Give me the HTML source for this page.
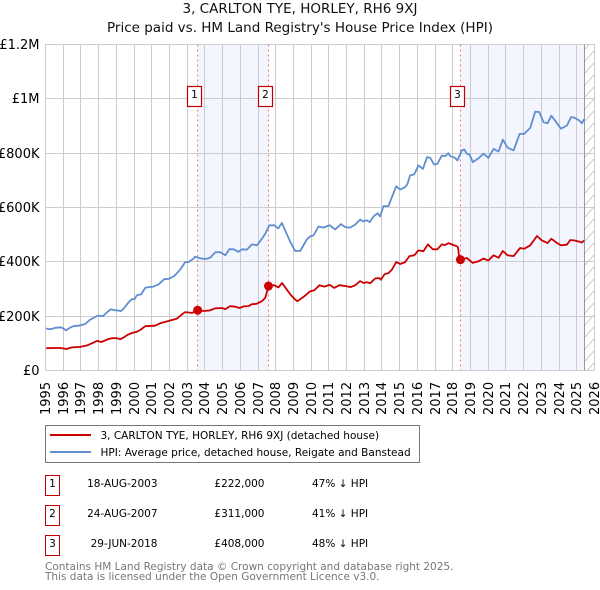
<!DOCTYPE html>
<html>
<head>
<meta charset="utf-8">
<title>3, CARLTON TYE, HORLEY, RH6 9XJ</title>
<style>
html,body{margin:0;padding:0;background:#fff;}
svg{display:block;font-family:"DejaVu Sans",sans-serif;}
text{fill:#000;font-size:13px;}
.ttl{font-size:13.5px;fill:#111;}
.leg{font-size:10.5px;}
.tbl{font-size:10.5px;}
.foot{font-size:10.5px;fill:#777;}
</style>
</head>
<body>
<svg id="chart" width="600" height="590" viewBox="0 0 600 590" xmlns="http://www.w3.org/2000/svg">
<defs>
<pattern id="hatch" patternUnits="userSpaceOnUse" x="584.5" y="2" width="10" height="12">
<path d="M0 11.5L10 0.5" stroke="#ccc" stroke-width="1" fill="none"/>
</pattern>
</defs>
<text class="ttl" x="300" y="13" text-anchor="middle">3, CARLTON TYE, HORLEY, RH6 9XJ</text>
<text class="ttl" x="300" y="32" text-anchor="middle">Price paid vs. HM Land Registry's House Price Index (HPI)</text>
<g id="shades"></g>
<g id="grid"></g>
<rect x="584.5" y="44.5" width="10" height="326" fill="url(#hatch)"/>
<line x1="584.5" x2="584.5" y1="44.5" y2="370.5" stroke="#999" stroke-width="1"/>
<g id="yticks"></g>
<g id="xticks"></g>
<g id="salelines"></g>
<g id="series"></g>
<g id="salemarks"></g>
<g id="saleboxes"></g>

<g>
<rect x="45.5" y="425.5" width="374" height="37" fill="#fff" stroke="#777" stroke-width="1"/>
<line x1="50" x2="91" y1="435" y2="435" stroke="#cc0000" stroke-width="2"/>
<text class="leg" x="100.5" y="439">3, CARLTON TYE, HORLEY, RH6 9XJ (detached house)</text>
<line x1="50" x2="91" y1="452" y2="452" stroke="#6090cf" stroke-width="2"/>
<text class="leg" x="100.5" y="456">HPI: Average price, detached house, Reigate and Banstead</text>
</g>

<g>
<rect x="45.5" y="475.5" width="14" height="20" fill="#fff" stroke="#c00000" stroke-width="1"/>
<text class="tbl" x="52.5" y="487" text-anchor="middle">1</text>
<text class="tbl" x="157.5" y="487" text-anchor="end">18-AUG-2003</text>
<text class="tbl" x="264.5" y="487" text-anchor="end">£222,000</text>
<text class="tbl" x="312" y="487">47% ↓ HPI</text>
<rect x="45.5" y="505.5" width="14" height="20" fill="#fff" stroke="#c00000" stroke-width="1"/>
<text class="tbl" x="52.5" y="517" text-anchor="middle">2</text>
<text class="tbl" x="157.5" y="517" text-anchor="end">24-AUG-2007</text>
<text class="tbl" x="264.5" y="517" text-anchor="end">£311,000</text>
<text class="tbl" x="312" y="517">41% ↓ HPI</text>
<rect x="45.5" y="535.5" width="14" height="20" fill="#fff" stroke="#c00000" stroke-width="1"/>
<text class="tbl" x="52.5" y="547" text-anchor="middle">3</text>
<text class="tbl" x="157.5" y="547" text-anchor="end">29-JUN-2018</text>
<text class="tbl" x="264.5" y="547" text-anchor="end">£408,000</text>
<text class="tbl" x="312" y="547">48% ↓ HPI</text>
</g>

<text class="foot" x="45" y="570">Contains HM Land Registry data © Crown copyright and database right 2025.</text>
<text class="foot" x="45" y="580">This data is licensed under the Open Government Licence v3.0.</text>
</svg>

<script>
var yearTicks = [1995,1996,1997,1998,1999,2000,2001,2002,2003,2004,2005,2006,2007,2008,2009,2010,2011,2012,2013,2014,2015,2016,2017,2018,2019,2020,2021,2022,2023,2024,2025,2026];
var priceTicks = [0,200,400,600,800,1000,1200];
var priceTickLabels = ['£0','£200K','£400K','£600K','£800K','£1M','£1.2M'];

var hpiYears = [1995.04,1995.17,1995.36,1995.55,1995.87,1996.02,1996.17,1996.39,1996.58,1996.86,1997.24,1997.52,1997.81,1997.94,1998.24,1998.56,1998.69,1998.94,1999.27,1999.44,1999.69,1999.88,2000.03,2000.16,2000.4,2000.63,2000.82,2001.1,2001.38,2001.7,2001.95,2002.27,2002.6,2002.89,2003.07,2003.36,2003.45,2003.74,2004.02,2004.3,2004.58,2004.87,2005.15,2005.39,2005.62,2005.9,2006.09,2006.37,2006.66,2006.94,2007.22,2007.41,2007.63,2007.91,2008.14,2008.35,2008.53,2008.82,2009.1,2009.38,2009.76,2009.95,2010.13,2010.41,2010.7,2011.04,2011.36,2011.68,2011.92,2012.2,2012.49,2012.77,2012.92,2013.15,2013.3,2013.52,2013.75,2013.9,2014.08,2014.37,2014.56,2014.8,2015.03,2015.31,2015.44,2015.59,2015.82,2016.06,2016.31,2016.54,2016.72,2016.95,2017.13,2017.38,2017.57,2017.75,2017.85,2018.13,2018.26,2018.51,2018.64,2018.79,2018.94,2019.13,2019.45,2019.73,2020.01,2020.3,2020.58,2020.83,2021.09,2021.43,2021.77,2022.03,2022.37,2022.65,2022.88,2023.12,2023.35,2023.56,2023.84,2024.1,2024.44,2024.67,2024.82,2025.1,2025.29,2025.42];
var hpiValues = [155,152,153,157,159,154,148,158,163,165,171,187,197,202,200,219,225,222,219,230,251,263,263,277,280,304,307,309,317,336,337,348,371,399,399,412,419,413,410,415,435,436,424,447,446,437,446,445,464,461,485,504,534,535,523,543,516,473,440,440,483,494,497,530,526,535,519,539,528,526,537,556,549,553,546,567,579,567,605,605,638,678,666,675,687,718,722,755,742,785,783,758,761,791,789,800,789,783,773,810,814,798,795,767,781,798,783,816,806,850,820,810,871,871,893,953,951,914,910,938,914,890,902,932,932,922,910,926];

var priceYears = [1995.04,1995.64,1995.87,1996.17,1996.49,1996.96,1997.34,1997.62,1997.9,1998.15,1998.56,1998.75,1999.03,1999.22,1999.4,1999.63,1999.88,2000.16,2000.35,2000.63,2001.19,2001.48,2002.04,2002.42,2002.7,2002.89,2003.27,2003.59,2003.92,2004.26,2004.58,2004.96,2005.15,2005.43,2005.71,2005.96,2006.18,2006.46,2006.66,2006.9,2007.22,2007.41,2007.59,2007.91,2008.15,2008.36,2008.59,2008.82,2009.1,2009.23,2009.57,2009.95,2010.17,2010.47,2010.74,2011.04,2011.3,2011.6,2011.92,2012.24,2012.49,2012.77,2012.96,2013.15,2013.33,2013.62,2013.86,2013.94,2014.14,2014.37,2014.56,2014.8,2015.03,2015.31,2015.55,2015.82,2016.06,2016.34,2016.59,2016.87,2017.13,2017.38,2017.57,2017.75,2018.04,2018.23,2018.29,2018.37,2018.43,2018.79,2019.13,2019.45,2019.73,2020.01,2020.3,2020.58,2020.83,2021.09,2021.43,2021.8,2022.03,2022.37,2022.75,2023.03,2023.35,2023.56,2023.84,2024.1,2024.44,2024.63,2024.85,2025.1,2025.29,2025.42];
var priceValues = [82,83,83,79,85,87,92,100,109,105,116,119,119,115,121,131,138,143,149,163,165,174,184,191,206,215,212,222,219,221,229,230,226,237,235,230,236,237,244,245,255,268,311,314,306,322,301,280,261,255,271,292,295,314,309,315,304,314,311,307,314,329,322,325,321,339,340,334,354,359,371,399,392,399,421,424,442,439,464,446,446,464,462,469,462,457,453,410,408,414,396,402,412,405,424,415,440,424,421,451,448,461,495,479,469,485,471,461,463,480,479,475,471,478];

var saleYears = [2003.59,2007.59,2018.43];
var salePrices = [222,311,408];
var saleLabels = ['1','2','3'];
var shadeEndYears = [2007.59,2025.42];
var shadeStartYears = [2003.59,2018.43];

var SVGNS = 'http://www.w3.org/2000/svg';
function x(year){ return 45.5 + (year - 1995) * 17.71; }
function y(value){ return 370.5 - value * 0.27167; }
function snap(v){ return Math.floor(v) + 0.5; }
function make(tag, parent, attrs){
  var el = document.createElementNS(SVGNS, tag);
  for (var k in attrs) el.setAttribute(k, attrs[k]);
  parent.appendChild(el);
  return el;
}
var gShades = document.getElementById('shades');
var gGrid = document.getElementById('grid');
var gY = document.getElementById('yticks');
var gX = document.getElementById('xticks');
var gLines = document.getElementById('salelines');
var gSeries = document.getElementById('series');
var gMarks = document.getElementById('salemarks');
var gBoxes = document.getElementById('saleboxes');

shadeStartYears.forEach(function(s, i){
  var r = make('rect', gShades, {x: x(s), y: 44.5, width: x(shadeEndYears[i]) - x(s), height: 326, fill: '#f3f6fe'});
  
  
});
yearTicks.forEach(function(t){
  var px = snap(x(t));
  var l = make('line', gGrid, {x1: px, x2: px, y1: 44.5, y2: 370.5, stroke: '#ccc', 'stroke-width': 1});
  
  
  var tx = make('text', gX, {transform: 'translate(' + (px + 4.5) + ',415) rotate(-90)'});
  tx.textContent = t;
  
  
});
priceTicks.forEach(function(t, i){
  var py = snap(y(t));
  var l = make('line', gGrid, {x1: 45.5, x2: 594.5, y1: py, y2: py, stroke: '#ccc', 'stroke-width': 1});
  
  
  var tx = make('text', gY, {x: 39.5, y: py + 4.5, 'text-anchor': 'end'});
  tx.textContent = priceTickLabels[i];
  
  
});
saleYears.forEach(function(s){
  var l = make('line', gLines, {x1: x(s), x2: x(s), y1: 44.5, y2: 370.5, stroke: '#f4707f', 'stroke-width': 1, 'stroke-dasharray': '2 3'});
  
  
});
function pathFrom(xs, vs){
  return xs.map(function(v, i){ return (i ? 'L' : 'M') + x(v).toFixed(1) + ' ' + y(vs[i]).toFixed(1); }).join('');
}
var hpiLine = make('path', gSeries, {d: pathFrom(hpiYears, hpiValues), fill: 'none', stroke: '#5f8fd0', 'stroke-width': 1.8, 'stroke-linejoin': 'round'});


var priceLine = make('path', gSeries, {d: pathFrom(priceYears, priceValues), fill: 'none', stroke: '#cc0000', 'stroke-width': 1.8, 'stroke-linejoin': 'round'});


saleYears.forEach(function(s, i){
  var c = make('circle', gMarks, {cx: x(s), cy: y(salePrices[i]), r: 4.5, fill: '#cc0000'});
  
  
  var bx = snap(x(s)) - 10;
  var b = make('rect', gBoxes, {x: bx, y: 86.5, width: 14, height: 20, fill: '#fff', stroke: '#c00000', 'stroke-width': 1.2});
  
  
  var t = make('text', gBoxes, {x: bx + 7, y: 98, 'text-anchor': 'middle', style: 'font-size:10.5px'});
  t.textContent = saleLabels[i];
  
  
});
</script>
</body>
</html>
